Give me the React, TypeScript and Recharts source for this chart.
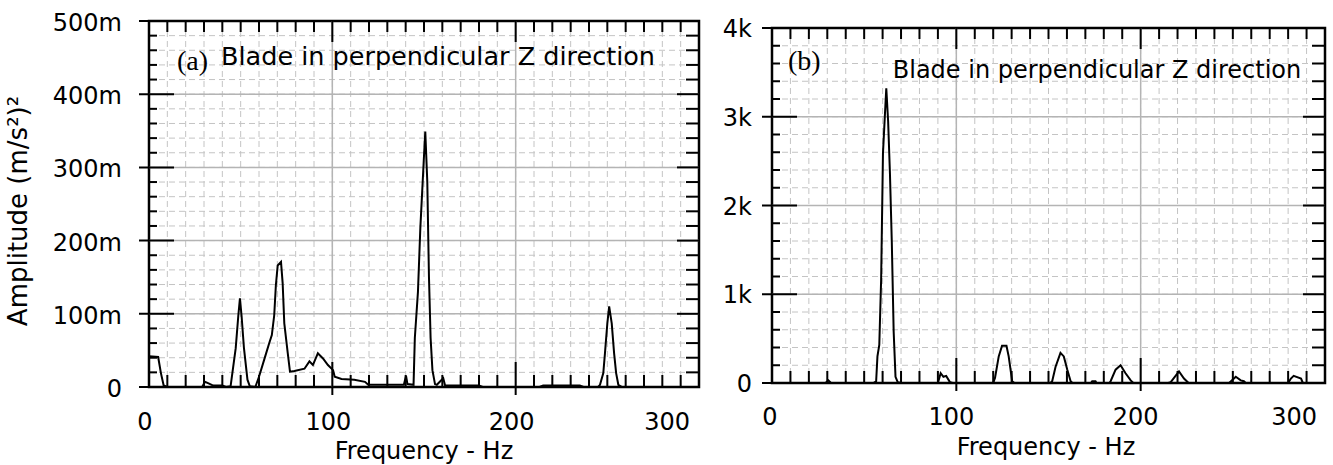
import { LineChart, Line, XAxis, YAxis, CartesianGrid, ReferenceLine, ReferenceArea } from 'recharts';

// (a) acceleration spectrum, amplitude in milli (m/s²)²
const FREQ_A = [
  0, 5, 6.5, 8, 10, 29, 30.5, 32.5, 35, 40, 42, 44.5, 47.3, 48.7, 49.6, 50.5, 51.8, 53.7, 55, 58,
  60, 62.8, 65.6, 67, 68.3, 69.2, 70.2, 72, 72.9, 73.8, 75.7, 76.9, 79.3, 84.8, 87.5, 89.4, 92.1,
  94.9, 97.6, 100.4, 101.3, 105, 112, 117.8, 119.6, 133, 139, 140.2, 141, 144.3, 145, 146.7, 148,
  149.8, 150.7, 151.8, 152.7, 153.6, 154.6, 156, 157, 160.5, 161.5, 165, 180, 182, 213, 215, 235,
  237, 245, 246, 247.8, 248.7, 250, 251, 252.4, 253.7, 254.8, 256, 258, 300,
];
const AMP_A = [
  42, 41, 19, 2, 0, 0, 7, 5, 2, 2, 0, 1, 53, 97, 121, 97, 53, 10, 1, 0,
  14, 37, 60, 71, 98, 139, 166, 171, 142, 87, 46, 21, 22, 25, 35, 30, 46,
  39, 30, 23, 14, 11, 10, 7, 3, 3, 3, 15, 4, 3, 67, 130, 217,
  306, 349, 280, 151, 67, 23, 4, 3, 12, 2, 2, 2, 0, 0, 2, 2,
  0, 0, 3, 19, 46, 87, 110, 87, 46, 19, 3, 0, 0,
];

// (b)
const FREQ_B = [
  0, 29, 30.6, 32, 55, 56.5, 57.2, 58.2, 59.2, 60.2, 61.2, 62, 63, 64, 65, 66, 67, 68.2, 70,
  90, 91.5, 93, 94.5, 96.5, 98, 120, 121, 123, 124.8, 127.2, 128.4, 130.3, 131.5,
  151, 152, 153.8, 156.5, 158.3, 160.2, 162, 163, 173, 173.7, 175.5, 176,
  183, 183.7, 186.4, 189.1, 191.8, 194.6, 196, 215, 216.3, 220.8, 223.5, 226,
  248, 249, 251.6, 254.3, 256, 257, 280, 281.5, 283, 287, 288, 300,
];
const AMP_B = [
  0, 0, 30, 0, 0, 20, 300, 430, 1160, 2590, 3000, 3320, 2950, 2350, 1580, 580, 70, 10, 0,
  0, 110, 70, 80, 10, 0, 0, 60, 300, 420, 420, 300, 20, 0,
  0, 20, 180, 340, 300, 150, 20, 0, 0, 20, 20, 0,
  0, 20, 150, 200, 110, 30, 0, 0, 10, 130, 50, 0,
  0, 20, 70, 30, 20, 0, 0, 50, 80, 50, 0, 0,
];

const X_TICKS = Array.from({ length: 31 }, (_, i) => i * 10);
const Y_TICKS_A = Array.from({ length: 26 }, (_, i) => i * 20);
const Y_TICKS_B = Array.from({ length: 21 }, (_, i) => i * 200);
const X_MAJOR = [100, 200];
const Y_MAJOR_A = [100, 200, 300, 400];
const Y_MAJOR_B = [1000, 2000, 3000];

const TITLE = 'Blade in perpendicular Z direction';
const FONT = '"DejaVu Sans", Verdana, sans-serif';
const SERIF = '"Liberation Serif", "Times New Roman", serif';

const dataA = FREQ_A.map((f, i) => ({ f, a: AMP_A[i] }));
const dataB = FREQ_B.map((f, i) => ({ f, a: AMP_B[i] }));

const makeXTick = (plotH: number, labelDy: number, labelX: (v: number, x: number) => [number, string]) => (p: any) => {
  const v = p.payload.value;
  const major = v % 100 === 0;
  const { x, y } = p;
  const edge = v === 0 || v === 300;
  const [lx, anchor] = labelX(v, x);
  return (
    <g>
      <line x1={x} x2={x} y1={major && !edge ? y + 8 : y} y2={y - (major ? 25 : 12)} stroke="#000" strokeWidth={2} />
      <line x1={x} x2={x} y1={y - plotH} y2={y - plotH + (major ? 21 : 11)} stroke="#000" strokeWidth={2} />
      {major && (
        <text x={lx} y={y + labelDy} textAnchor={anchor} fontSize={24} fontFamily={FONT} fill="#000">
          {v}
        </text>
      )}
    </g>
  );
};

const makeYTick = (plotW: number, step: number, gap: number, dy: number, fmt: (v: number) => string) => (p: any) => {
  const v = p.payload.value;
  const major = v % step === 0;
  const { x, y } = p;
  return (
    <g>
      <line x1={major ? x - 10 : x} x2={x + (major ? 25 : 8)} y1={y} y2={y} stroke="#000" strokeWidth={2} />
      <line x1={x + plotW - (major ? 22 : 13)} x2={x + plotW} y1={y} y2={y} stroke="#000" strokeWidth={2} />
      {major && (
        <text x={x - gap} y={y + dy} textAnchor="end" fontSize={24} fontFamily={FONT} fill="#000">
          {fmt(v)}
        </text>
      )}
    </g>
  );
};

const fmtA = (v: number) => (v === 0 ? '0' : `${v}m`);
const fmtB = (v: number) => (v === 0 ? '0' : `${v / 1000}k`);

function Panel({ data, width, yWidth, margin, plotW, plotH, yMax, yTicks, yMajor, yStep, yGap, yDy, fmt, xDy, labelX }: any) {
  return (
    <LineChart width={width} height={465} data={data} margin={margin}>
      <CartesianGrid stroke="#c4c4c4" strokeDasharray="6 4" />
      {X_MAJOR.map((v) => (
        <ReferenceLine key={`vx-${v}`} x={v} stroke="#b4b4b4" strokeWidth={1.5} />
      ))}
      {yMajor.map((v: number) => (
        <ReferenceLine key={`hy-${v}`} y={v} stroke="#b4b4b4" strokeWidth={1.5} />
      ))}
      <XAxis
        dataKey="f"
        type="number"
        domain={[0, 300]}
        ticks={X_TICKS}
        interval={0}
        height={40}
        axisLine={false}
        tickLine={false}
        tickSize={0}
        tickMargin={0}
        tick={makeXTick(plotH, xDy, labelX)}
      />
      <YAxis
        type="number"
        domain={[0, yMax]}
        ticks={yTicks}
        interval={0}
        width={yWidth}
        axisLine={false}
        tickLine={false}
        tickSize={0}
        tickMargin={0}
        tick={makeYTick(plotW, yStep, yGap, yDy, fmt)}
      />
      <ReferenceArea x1={0} x2={300} y1={0} y2={yMax} fill="none" stroke="#000" strokeWidth={2.5} />
      <Line type="linear" dataKey="a" stroke="#000" strokeWidth={2} dot={false} isAnimationActive={false} />
    </LineChart>
  );
}

export default function App() {
  return (
    <div style={{ position: 'absolute', left: 0, top: 0, width: 1333, height: 465, background: '#fff', overflow: 'hidden' }}>
      <div style={{ position: 'absolute', left: 0, top: 0 }}>
        <Panel
          data={dataA}
          width={702}
          yWidth={149}
          margin={{ top: 21, right: 3, bottom: 38, left: 0 }}
          plotW={550}
          plotH={366}
          yMax={500}
          yTicks={Y_TICKS_A}
          yMajor={Y_MAJOR_A}
          yStep={100}
          yGap={27}
          yDy={10}
          fmt={fmtA}
          xDy={43}
          labelX={(v: number, x: number) => (v === 300 ? [x - 9, 'end'] : [x - 4, 'middle'])}
        />
      </div>
      <div style={{ position: 'absolute', left: 702, top: 0 }}>
        <Panel
          data={dataB}
          width={631}
          yWidth={70}
          margin={{ top: 28, right: 8, bottom: 42, left: 0 }}
          plotW={553}
          plotH={355}
          yMax={4000}
          yTicks={Y_TICKS_B}
          yMajor={Y_MAJOR_B}
          yStep={1000}
          yGap={20}
          yDy={9}
          fmt={fmtB}
          xDy={42}
          labelX={(v: number, x: number) => (v === 300 ? [x - 8, 'end'] : [x - (v === 0 ? 2 : 5), 'middle'])}
        />
      </div>
      <svg width={1333} height={465} style={{ position: 'absolute', left: 0, top: 0, pointerEvents: 'none' }}>
        <text x={177} y={70} fontSize={28} fontFamily={SERIF} fill="#000">(a)</text>
        <text x={438} y={65} textAnchor="middle" fontSize={25.5} fontFamily={FONT} fill="#000">{TITLE}</text>
        <text x={788} y={70} fontSize={28} fontFamily={SERIF} fill="#000">(b)</text>
        <text x={1097} y={78} textAnchor="middle" fontSize={24} fontFamily={FONT} fill="#000">{TITLE}</text>
        <text x={424} y={459} textAnchor="middle" fontSize={24} fontFamily={FONT} fill="#000">Frequency - Hz</text>
        <text x={1046} y={455} textAnchor="middle" fontSize={24} fontFamily={FONT} fill="#000">Frequency - Hz</text>
        <text x={27} y={211} transform="rotate(-90 27 211)" textAnchor="middle" fontSize={26} fontFamily={FONT} fill="#000">
          Amplitude (m/s²)²
        </text>
      </svg>
    </div>
  );
}
